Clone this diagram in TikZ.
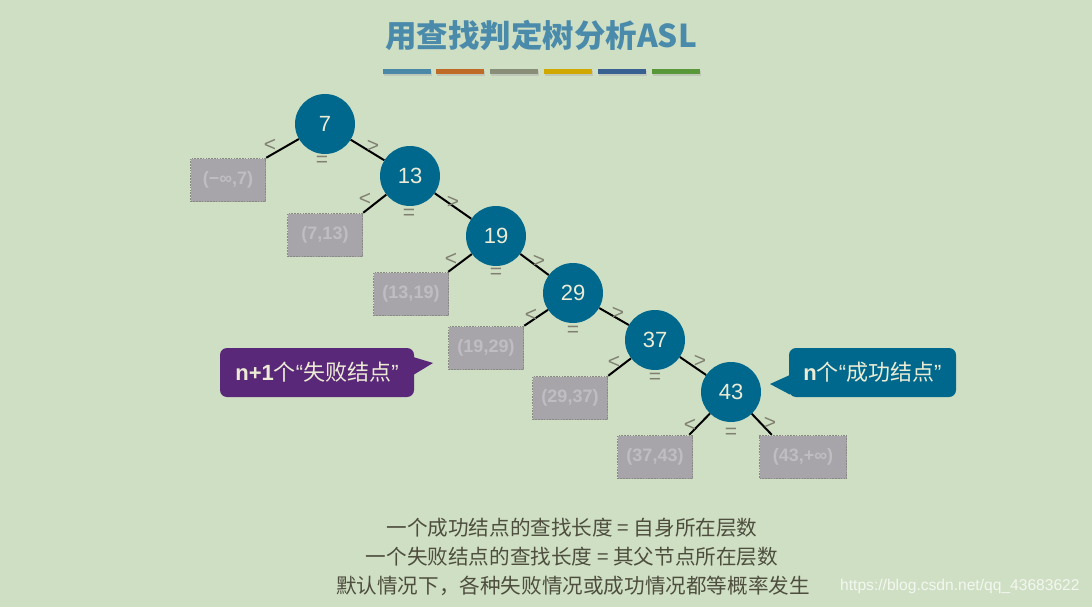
\documentclass[tikz,border=0pt]{standalone}
\usepackage{fontspec}
\setmainfont{Liberation Sans}
\newfontfamily\cjk{Noto Sans CJK SC}
\usetikzlibrary{calc}
\definecolor{bg}{RGB}{207,223,196}
\definecolor{nodeblue}{RGB}{0,104,140}
\definecolor{leaffill}{RGB}{168,165,170}
\definecolor{leafline}{RGB}{138,138,132}
\definecolor{leaftext}{RGB}{192,189,194}
\definecolor{signc}{RGB}{128,128,112}
\definecolor{titlec}{RGB}{74,138,170}
\definecolor{purp}{RGB}{90,40,120}
\definecolor{cream}{RGB}{236,236,214}
\definecolor{bodytext}{RGB}{78,78,62}
\definecolor{barA}{RGB}{74,136,168}
\definecolor{barB}{RGB}{192,106,40}
\definecolor{barC}{RGB}{136,142,120}
\definecolor{barD}{RGB}{208,168,0}
\definecolor{barE}{RGB}{56,96,144}
\definecolor{barF}{RGB}{88,152,56}
\tikzset{
  treenode/.style={circle, fill=nodeblue, minimum size=60pt, inner sep=0pt, text=cream, font=\fontsize{22}{22}\selectfont},
  leaf/.style={rectangle, fill=leaffill, draw=leafline, line width=1.5pt, dash pattern=on 1.6pt off 1.2pt, minimum width=75pt, minimum height=43pt, inner sep=0pt, text=leaftext, font=\bfseries\fontsize{18}{18}\selectfont},
  sign/.style={text=signc, font=\fontsize{21}{21}\selectfont, inner sep=0pt},
  edge/.style={line width=2pt, black},
  bar/.style={minimum width=48pt, minimum height=5pt, inner sep=0pt},
  callbox/.style={rectangle, rounded corners=7pt, inner sep=0pt, text=cream},
  body/.style={text=bodytext, font=\cjk\fontsize{20.6}{20.6}\selectfont, inner sep=0pt}
}
\begin{document}
\begin{tikzpicture}[x=1pt,y=-1pt]
\fill[bg] (0,0) rectangle (1092,607);
\useasboundingbox (0,0) rectangle (1092,607);

% title
\node[text=titlec, font=\cjk\bfseries\fontsize{31.5}{31.5}\selectfont, inner sep=0pt] (title) at (541,35) {用查找判定树分析ASL};
\foreach \c/\x [count=\i] in {barA/407,barB/459.5,barC/513.5,barD/568,barE/621.5,barF/676}{
  \fill[black!30, opacity=0.5] (\x-24+1,70+1) rectangle (\x+24+1,75+1);
  \node[bar, fill=\c] (bar\i) at (\x,72) {};
}

% tree nodes
\node[treenode] (n7)  at (325,124) {7};
\node[treenode] (n13) at (410,176) {13};
\node[treenode] (n19) at (496,236) {19};
\node[treenode] (n29) at (573,293) {29};
\node[treenode] (n37) at (655,340) {37};
\node[treenode] (n43) at (731,392) {43};

% leaves
\node[leaf] (l0) at (228,180) {(−∞,7)};
\node[leaf] (l1) at (325,235) {(7,13)};
\node[leaf] (l2) at (411,294) {(13,19)};
\node[leaf] (l3) at (486,348) {(19,29)};
\node[leaf] (l4) at (570,398) {(29,37)};
\node[leaf] (l5) at (655,457) {(37,43)};
\node[leaf, minimum width=87pt] (l6) at (803,457) {(43,+∞)};

% edges
\draw[edge] (n7) -- (l0.north east);
\draw[edge] (n7) -- (n13);
\draw[edge] (n13) -- (l1.north east);
\draw[edge] (n13) -- (n19);
\draw[edge] (n19) -- ($(l2.north east)+(-1,0)$);
\draw[edge] (n19) -- (n29);
\draw[edge] (n29) -- (l3.north east);
\draw[edge] (n29) -- (n37);
\draw[edge] (n37) -- (l4.north east);
\draw[edge] (n37) -- (n43);
\draw[edge] (n43) -- ($(l5.north east)+(-4,0)$);
\draw[edge] (n43) -- ($(l6.north west)+(13,0)$);

% comparison signs
\node[sign] (s7a) at (270,145) {<};
\node[sign] (s7b) at (373,146) {>};
\node[sign] (s7c) at (322,161) {=};
\node[sign] (s13a) at (365,199) {<};
\node[sign] (s13b) at (453,202) {>};
\node[sign] (s13c) at (409,214) {=};
\node[sign] (s19a) at (451,259) {<};
\node[sign] (s19b) at (539,261) {>};
\node[sign] (s19c) at (496,273) {=};
\node[sign] (s29a) at (531,315) {<};
\node[sign] (s29b) at (618,313) {>};
\node[sign] (s29c) at (573,331) {=};
\node[sign] (s37a) at (614,362) {<};
\node[sign] (s37b) at (700,361) {>};
\node[sign] (s37c) at (655,378) {=};
\node[sign] (s43a) at (690,425) {<};
\node[sign] (s43b) at (770,423) {>};
\node[sign] (s43c) at (731,433) {=};

% callouts
\node[callbox, fill=purp, minimum width=194pt, minimum height=49pt] (fail) at (317,372.5)
  {\fontsize{22}{22}\selectfont\textbf{n+1}{\cjk 个}“{\cjk 失败结点}”};
\coordinate (failtip) at (433,363);
\fill[purp] ($(fail.east)+(-1,-15.5)$) -- (failtip) -- ($(fail.east)+(-1,2.5)$) -- cycle;

\node[callbox, fill=nodeblue, minimum width=167pt, minimum height=49pt] (succ) at (872.5,372.5)
  {\fontsize{22}{22}\selectfont\textbf{n}{\cjk 个}“{\cjk 成功结点}”};
\coordinate (succtip) at (770,384);
\fill[nodeblue] ($(succ.west)+(1,2.5)$) -- (succtip) -- ($(succ.west)+(1,22)$) -- cycle;

% bottom text
\node[body] (t1) at (572,528) {一个成功结点的查找长度 = 自身所在层数};
\node[body] (t2) at (572,557) {一个失败结点的查找长度 = 其父节点所在层数};
\node[body] (t3) at (573,586) {默认情况下，各种失败情况或成功情况都等概率发生};

% watermark
\node[text=white, opacity=0.75, font=\fontsize{15.6}{15.6}\selectfont, inner sep=0pt, anchor=west] (wm) at (840,586) {https://blog.csdn.net/qq\_43683622};
\end{tikzpicture}
\end{document}
